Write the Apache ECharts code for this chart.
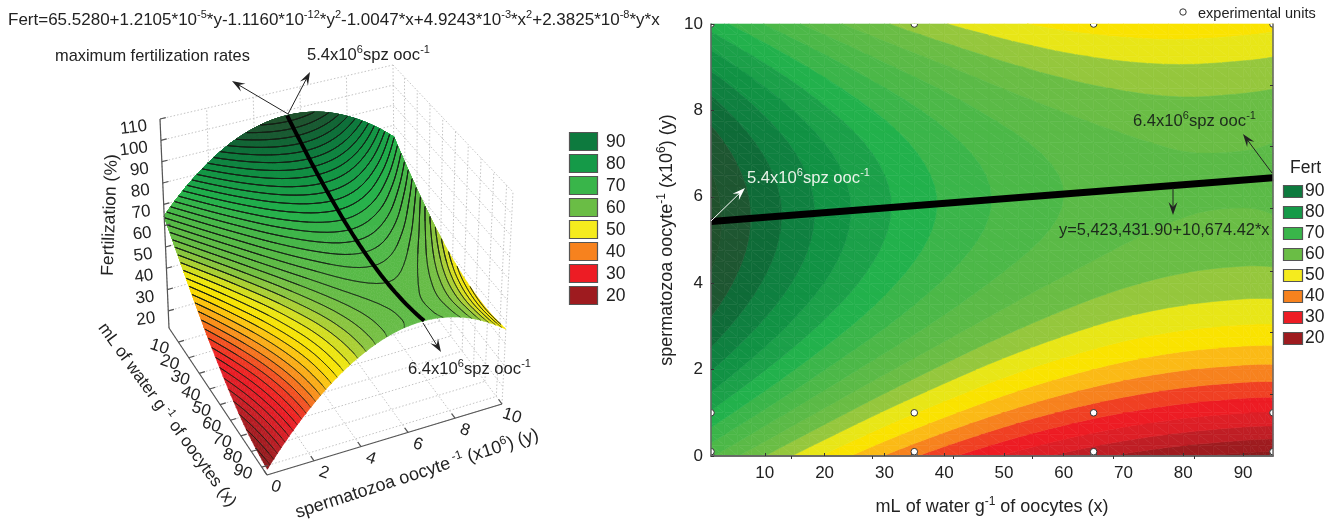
<!DOCTYPE html>
<html><head><meta charset="utf-8">
<style>html,body{margin:0;padding:0;background:#fff}#c{width:1338px;height:519px}</style>
<script src="https://cdn.jsdelivr.net/npm/echarts@6/dist/echarts.min.js"></script>
</head><body><div id="c"></div>
<script>
// ---------- data ----------
const waterX = [1,10,20,30,40,50,60,70,80,90,95];
const spermY = [0,1,2,3,4,5,6,7,8,9,10];
const fertY0  = [64.5,56.0,47.4,39.8,33.2,27.6,23.0,19.3,16.7,15.0,14.5];
const fertY1  = [75.5,67.2,58.9,51.5,45.2,39.8,35.4,32.0,29.6,28.1,27.8];
const fertY2  = [84.3,76.2,68.1,61.0,54.9,49.7,45.6,42.4,40.2,39.0,38.8];
const fertY3  = [90.9,83.0,75.1,68.3,62.4,57.5,53.6,50.6,48.7,47.7,47.6];
const fertY4  = [95.2,87.5,79.9,73.2,67.6,62.9,59.3,56.6,54.9,54.1,54.1];
const fertY5  = [97.3,89.8,82.4,76.0,70.6,66.2,62.8,60.3,58.8,58.3,58.5];
const fertY6  = [97.1,89.9,82.7,76.6,71.4,67.2,64.0,61.8,60.6,60.3,60.6];
const fertY7  = [94.8,87.7,80.8,74.9,69.9,66.0,63.0,61.1,60.1,60.1,60.4];
const fertY8  = [90.1,83.3,76.6,71.0,66.3,62.5,59.8,58.1,57.3,57.6,58.0];
const fertY9  = [83.3,76.7,70.3,64.8,60.4,56.9,54.4,52.9,52.4,52.9,53.4];
const fertY10 = [74.2,67.8,61.6,56.4,52.2,49.0,46.7,45.5,45.2,45.9,46.6];
const fertRows = [fertY0,fertY1,fertY2,fertY3,fertY4,fertY5,fertY6,fertY7,fertY8,fertY9,fertY10];

const expX = [1,1,1,1,35,35,35,35,65,65,65,65,95,95,95,95];
const expY = [0,0.1,1,10,0,0.1,1,10,0,0.1,1,10,0,0.1,1,10];
const regressionX = [1,95];
const regressionY = [5.43,6.44];

const xTickLabels = [10,20,30,40,50,60,70,80,90];
const yTickLabels = [0,2,4,6,8,10];
const topTicks = [14.5,28,41.5,54.7,68.3,81.8];
const rightTicks = [1.43,2.86,4.28,5.73,7.17,8.58];
const zTicks3d = [20,30,40,50,60,70,80,90,100,110];
const xTicks3d = [10,20,30,40,50,60,70,80,90];
const yTicks3d = [0,2,4,6,8,10];

const legendLabels = [90,80,70,60,50,40,30,20];
const legendColors = ['#0D7A3E','#159A48','#39B54A','#6ABD45','#F5EB1E','#F7821E','#ED1C24','#9E1B1F'];
// one colour per 4-unit band, from the band 12-16 upward
const bandFloor = 12, bandStep = 4;
const bandColors = ['#8A1A1C','#9E1B1F','#BF1E25','#DD1F26','#ED1C24','#F04023','#F7821E','#FBBA16','#FAE300','#E8E617','#95C73D','#6ABD45','#5BBA47','#4CB848','#3BB54A','#22B14C','#1BA049','#119244','#0F8040','#0F6B38','#1E5631','#20502C'];

// ---------- helpers ----------
const FONT = '"Liberation Sans", Arial, sans-serif';
const project3d = (function(){
  const A=[169,328],B=[267,475],C=[502,404],D=[395,262];
  const At=[160,119],Bt=[280,246],Ct=[513,192],Dt=[393,65];
  const zMin=12,zMax=110;
  const bil=(p,q,r,s,u,v,k)=>(1-u)*(1-v)*p[k]+u*(1-v)*q[k]+u*v*r[k]+(1-u)*v*s[k];
  return function(x,y,z){
    const u=(x-1)/94,v=y/10,w=(z-zMin)/(zMax-zMin);
    return [0,1].map(k=>{
      const f=bil(A,B,C,D,u,v,k),t=bil(At,Bt,Ct,Dt,u,v,k);
      return f+(t-f)*w;
    });
  };
})();
function hex(c){return [1,3,5].map(i=>parseInt(c.substr(i,2),16));}
function smoothColor(z){
  const t=(z-bandFloor)/bandStep-0.5;
  const i=Math.max(0,Math.min(bandColors.length-2,Math.floor(t)));
  const f=Math.max(0,Math.min(1,t-i));
  const a=hex(bandColors[i]),b=hex(bandColors[i+1]);
  return 'rgb('+a.map((v,k)=>Math.round(v+(b[k]-v)*f)).join(',')+')';
}
function clipZ(poly,level,keepAbove){
  const out=[];
  for(let i=0;i<poly.length;i++){
    const p=poly[i],q=poly[(i+1)%poly.length];
    const pin=keepAbove?p[2]>=level:p[2]<=level,qin=keepAbove?q[2]>=level:q[2]<=level;
    if(pin)out.push(p);
    if(pin!==qin){const t=(level-p[2])/(q[2]-p[2]);out.push([p[0]+(q[0]-p[0])*t,p[1]+(q[1]-p[1])*t,level]);}
  }
  return out;
}
// smooth drawing of the read table: the renderer samples a cubic through the table's values
function slopesOf(xs,v){
  const n=xs.length,m=new Array(n);
  for(let i=1;i<n-1;i++)m[i]=(v[i+1]-v[i-1])/(xs[i+1]-xs[i-1]);
  m[0]=2*(v[1]-v[0])/(xs[1]-xs[0])-m[1];
  m[n-1]=2*(v[n-1]-v[n-2])/(xs[n-1]-xs[n-2])-m[n-2];
  return m;
}
const SUB=4;
function fineAxis(xs){
  const o=[];
  for(let i=0;i<xs.length-1;i++)for(let s=0;s<SUB;s++)o.push(xs[i]+(xs[i+1]-xs[i])*s/SUB);
  o.push(xs[xs.length-1]);
  return o;
}
function resample(xs,v){
  const m=slopesOf(xs,v),o=[];
  for(let i=0;i<xs.length-1;i++){
    const h=xs[i+1]-xs[i];
    for(let s=0;s<SUB;s++){
      const t=s/SUB,t2=t*t,t3=t2*t;
      o.push((2*t3-3*t2+1)*v[i]+(t3-2*t2+t)*h*m[i]+(-2*t3+3*t2)*v[i+1]+(t3-t2)*h*m[i+1]);
    }
  }
  o.push(v[v.length-1]);
  return o;
}
const fineX=fineAxis(waterX),fineY=fineAxis(spermY);
const fineGrid=(function(){
  const byRow=fertRows.map(r=>resample(waterX,r));
  const cols=fineX.map((_,i)=>resample(spermY,byRow.map(r=>r[i])));
  return fineY.map((_,j)=>fineX.map((_,i)=>cols[i][j]));
})();
function forEachTriangle(fn){
  for(let i=0;i<fineX.length-1;i++){
    for(let j=fineY.length-2;j>=0;j--){
      const v=(a,b)=>[fineX[a],fineY[b],fineGrid[b][a]];
      fn([v(i,j),v(i+1,j),v(i,j+1)]);
      fn([v(i+1,j),v(i+1,j+1),v(i,j+1)]);
    }
  }
}
function buildBands(step,colorOf){
  const out=[];
  forEachTriangle(tri=>{
    const zs=tri.map(p=>p[2]);
    const lo=Math.floor(Math.min(...zs)/step)*step,hi=Math.max(...zs);
    for(let l=lo;l<hi;l+=step){
      const poly=clipZ(clipZ(tri,l,true),l+step,false);
      if(poly.length>=3)out.push({pts:poly,color:colorOf(l)});
    }
  });
  return out;
}
function buildContours(step){
  const out=[];
  forEachTriangle(tri=>{
    const zs=tri.map(p=>p[2]);
    for(let l=Math.ceil(Math.min(...zs)/step)*step;l<=Math.max(...zs);l+=step){
      const L=l+1e-6,seg=[];
      for(let i=0;i<3;i++){
        const p=tri[i],q=tri[(i+1)%3];
        if((p[2]-L)*(q[2]-L)<0){const t=(L-p[2])/(q[2]-p[2]);seg.push([p[0]+(q[0]-p[0])*t,p[1]+(q[1]-p[1])*t,l]);}
      }
      if(seg.length===2)out.push(seg);
    }
  });
  return out;
}
function fertAt(x,y){
  let i=0;while(i<fineX.length-2&&x>fineX[i+1])i++;
  let j=0;while(j<fineY.length-2&&y>fineY[j+1])j++;
  const u=(x-fineX[i])/(fineX[i+1]-fineX[i]),v=(y-fineY[j])/(fineY[j+1]-fineY[j]);
  return (1-u)*(1-v)*fineGrid[j][i]+u*(1-v)*fineGrid[j][i+1]+u*v*fineGrid[j+1][i+1]+(1-u)*v*fineGrid[j+1][i];
}
const flatBands = buildBands(bandStep,l=>bandColors[Math.max(0,Math.min(bandColors.length-1,(l-bandFloor)/bandStep))]);
const surfBands = buildBands(2,l=>smoothColor(l+1));
const surfLines = buildContours(2);

// wireframe of the 3-D box
const wire=[];
const X0=1,X1=95,Y0=0,Y1=10,Z0=12,Z1=110;
xTicks3d.concat([X1]).forEach(x=>{wire.push([[x,Y0,Z0],[x,Y1,Z0]]);wire.push([[x,Y1,Z0],[x,Y1,Z1]]);});
yTicks3d.forEach(y=>{wire.push([[X0,y,Z0],[X1,y,Z0]]);wire.push([[X0,y,Z0],[X0,y,Z1]]);});
zTicks3d.forEach(z=>{wire.push([[X0,Y0,z],[X0,Y1,z]]);wire.push([[X0,Y1,z],[X1,Y1,z]]);});

// regression path on the surface
const regressionPath = fineX.map(x=>{
  const y=regressionY[0]+(regressionY[1]-regressionY[0])*(x-regressionX[0])/(regressionX[1]-regressionX[0]);
  return [x,y,fertAt(x,y)];
});

const arrows = [
  [288,114,232,81,'#222'],[288,114,310,72,'#222'],[423,323,441,352,'#222'],
  [711,221,745,188,'#fff'],[1272,173,1243,134,'#222'],[1173,188,1173,215,'#222']
];

function richStyle(size,fill){
  const small=Math.round(size*0.65);
  return {
    b:{fontSize:size,fontFamily:FONT,fill:fill,color:fill,lineHeight:size+4,verticalAlign:'bottom',height:size+4},
    s:{fontSize:small,fontFamily:FONT,fill:fill,color:fill,lineHeight:small,verticalAlign:'top'}
  };
}
function label(text,x,y,size,fill,align,rotDeg){
  return {type:'text',x:x,y:y,rotation:(rotDeg||0)*Math.PI/180,silent:true,z:50,
    style:{text:text,rich:richStyle(size,fill),align:align||'left',verticalAlign:'middle',fill:fill}};
}
const spz54='{b|5.4x10}{s|6}{b|spz ooc}{s|-1}', spz64='{b|6.4x10}{s|6}{b|spz ooc}{s|-1}';
const graphics=[
  label('{b|Fert=65.5280+1.2105*10}{s|-5}{b|*y-1.1160*10}{s|-12}{b|*y}{s|2}{b|-1.0047*x+4.9243*10}{s|-3}{b|*x}{s|2}{b|+2.3825*10}{s|-8}{b|*y*x}',8,20,17,'#222'),
  label('{b|maximum fertilization rates}',55,56,16.4,'#222'),
  label(spz54,307,55,16.6,'#222'),
  label(spz64,408,369,16.6,'#222'),
  label(spz54,747,178,16.6,'#e8f2e8'),
  label(spz64,1133,121,16.6,'#1c2a1c'),
  label('{b|y=5,423,431.90+10,674.42*x}',1059,230,16.4,'#1c2a1c'),
  label('{b|experimental units}',1198,14,14.5,'#222'),
  label('{b|Fert}',1290,168,17.5,'#222'),
  label('{b|Fertilization (%)}',110,215,17.5,'#222','center',88),
  label('{b|mL of water g}{s| -1}{b| of oocytes (x)}',167,415,17,'#222','center',-54),
  label('{b|spermatozoa oocyte}{s| -1}{b| (x10}{s|6}{b|) (y)}',417,474,18,'#222','center',18),
  {type:'circle',shape:{cx:1183,cy:12,r:3.2},style:{fill:'#fff',stroke:'#333',lineWidth:1},silent:true}
];
legendLabels.forEach((v,i)=>{
  graphics.push({type:'rect',shape:{x:569.5,y:132.5+i*22,width:28,height:18},style:{fill:legendColors[i],stroke:'#555',lineWidth:1.2},silent:true});
  graphics.push(label('{b|'+v+'}',606,142+i*22,17.5,'#222'));
  graphics.push({type:'rect',shape:{x:1283.5,y:185.5+i*21,width:19,height:12},style:{fill:legendColors[i],stroke:'#555',lineWidth:1.2},silent:true});
  graphics.push(label('{b|'+v+'}',1305,191+i*21,17.5,'#222'));
});

const frameStyle={lineStyle:{color:'#666',width:1.5}};
const tickStyle={inside:true,length:3,lineStyle:{color:'#333',width:1}};
const pixelAxis={xAxisIndex:2,yAxisIndex:2,coordinateSystem:'cartesian2d',silent:true};

const option={
  animation:false,
  backgroundColor:'#fff',
  textStyle:{fontFamily:FONT},
  graphic:{elements:graphics},
  grid:[
    {left:711,top:24,width:562,height:432,containLabel:false,outerBoundsMode:'none'},
    {left:0,top:0,width:1338,height:519,outerBoundsMode:'none'}
  ],
  xAxis:[
    {gridIndex:0,type:'value',min:1,max:95,position:'bottom',z:5,splitLine:{show:false},axisLine:frameStyle,
      axisTick:Object.assign({customValues:xTickLabels},tickStyle),
      axisLabel:{customValues:xTickLabels,fontSize:17,color:'#222',margin:9,fontFamily:FONT},
      name:'{b|mL of water g}{s|-1}{b| of oocytes (x)}',nameLocation:'middle',nameGap:40,
      nameTextStyle:{rich:richStyle(18,'#222')}},
    {gridIndex:0,type:'value',min:1,max:95,position:'top',z:5,splitLine:{show:false},axisLine:frameStyle,
      axisTick:Object.assign({customValues:topTicks},tickStyle),axisLabel:{show:false}},
    {gridIndex:1,type:'value',min:0,max:1338,show:false}
  ],
  yAxis:[
    {gridIndex:0,type:'value',min:0,max:10,interval:2,position:'left',z:5,splitLine:{show:false},axisLine:frameStyle,
      axisTick:tickStyle,
      axisLabel:{fontSize:17,color:'#222',margin:8,fontFamily:FONT,formatter:v=>yTickLabels.includes(v)?String(v):''},
      name:'{b|spermatozoa oocyte}{s|-1}{b| (x10}{s|6}{b|) (y)}',nameLocation:'middle',nameGap:33,nameRotate:90,
      nameTextStyle:{rich:richStyle(18,'#222')}},
    {gridIndex:0,type:'value',min:0,max:10,position:'right',z:5,splitLine:{show:false},axisLine:frameStyle,
      axisTick:Object.assign({customValues:rightTicks},tickStyle),axisLabel:{show:false}},
    {gridIndex:1,type:'value',min:0,max:519,inverse:true,show:false}
  ],
  series:[
    // ---- right panel: filled contour bands
    {type:'custom',xAxisIndex:0,yAxisIndex:0,silent:true,z:2,data:flatBands.map((_,i)=>i),
      renderItem(p,api){
        const b=flatBands[p.dataIndex];
        return {type:'polygon',shape:{points:b.pts.map(q=>api.coord([q[0],q[1]]))},
          style:{fill:b.color,stroke:b.color,lineWidth:0.6}};
      }},
    {type:'line',xAxisIndex:0,yAxisIndex:0,silent:true,z:3,symbol:'none',
      data:regressionX.map((x,i)=>[x,regressionY[i]]),lineStyle:{color:'#000',width:7,cap:'butt'}},
    {type:'custom',xAxisIndex:0,yAxisIndex:0,silent:true,z:4,clip:true,
      data:expX.map((x,i)=>[x,expY[i]]),encode:{x:0,y:1},
      renderItem(p,api){
        const c=api.coord([api.value(0),api.value(1)]);
        return {type:'circle',shape:{cx:c[0],cy:c[1],r:3.3},style:{fill:'#fff',stroke:'#333',lineWidth:1}};
      }},
    // ---- left panel: wireframe
    Object.assign({type:'custom',z:1,data:wire.map((_,i)=>i),
      renderItem(p,api){
        const w=wire[p.dataIndex];
        return {type:'polyline',shape:{points:w.map(q=>api.coord(project3d(q[0],q[1],q[2])))},
          style:{stroke:'#c4c4c4',lineWidth:1,lineDash:[1.5,2],fill:null}};
      }},pixelAxis),
    // ---- left panel: surface
    Object.assign({type:'custom',z:2,data:surfBands.map((_,i)=>i),
      renderItem(p,api){
        const b=surfBands[p.dataIndex];
        return {type:'polygon',shape:{points:b.pts.map(q=>api.coord(project3d(q[0],q[1],q[2])))},
          style:{fill:b.color,stroke:b.color,lineWidth:0.6}};
      }},pixelAxis),
    Object.assign({type:'custom',z:3,data:surfLines.map((_,i)=>i),
      renderItem(p,api){
        const s=surfLines[p.dataIndex];
        const a=api.coord(project3d(s[0][0],s[0][1],s[0][2])),b=api.coord(project3d(s[1][0],s[1][1],s[1][2]));
        return {type:'line',shape:{x1:a[0],y1:a[1],x2:b[0],y2:b[1]},style:{stroke:'rgba(20,30,20,0.8)',lineWidth:0.8}};
      }},pixelAxis),
    Object.assign({type:'line',z:4,symbol:'none',data:regressionPath.map(q=>project3d(q[0],q[1],q[2])),
      lineStyle:{color:'#000',width:4}},pixelAxis),
    // ---- left panel: axes, ticks and labels of the box
    Object.assign({type:'custom',z:5,data:[0],
      renderItem(p,api){
        const pt=(x,y,z)=>api.coord(project3d(x,y,z));
        const ln=(a,b,w)=>({type:'polyline',shape:{points:[a,b]},style:{stroke:'#555',lineWidth:w||1.2,fill:null}});
        const txt=(s,a,dx,dy,rot,al)=>({type:'text',x:a[0]+dx,y:a[1]+dy,rotation:rot*Math.PI/180,
          style:{text:String(s),font:'17px '+FONT,fill:'#222',align:al||'center',verticalAlign:'middle'}});
        const kids=[ln(pt(X0,Y0,Z0),pt(X0,Y0,Z1)),ln(pt(X0,Y0,Z0),pt(X1,Y0,Z0)),ln(pt(X1,Y0,Z0),pt(X1,Y1,Z0))];
        zTicks3d.forEach(z=>{const a=pt(X0,Y0,z);kids.push(ln(a,pt(X0,0.25,z)));kids.push(txt(z,a,-13,7,7,'right'));});
        xTicks3d.forEach(x=>{const a=pt(x,Y0,Z0);kids.push(ln(a,pt(x,0.25,Z0)));kids.push(txt(x,a,-19,5,-18));});
        yTicks3d.forEach(y=>{const a=pt(X1,y,Z0);kids.push(ln(a,pt(92,y,Z0)));kids.push(txt(y,a,y===0?9:10,12,-18));});
        return {type:'group',children:kids};
      }},pixelAxis),
    // ---- annotation arrows
    Object.assign({type:'custom',z:6,data:arrows.map((_,i)=>i),
      renderItem(p,api){
        const r=arrows[p.dataIndex];
        const a=api.coord([r[0],r[1]]),b=api.coord([r[2],r[3]]);
        const d=Math.hypot(b[0]-a[0],b[1]-a[1]),ux=(b[0]-a[0])/d,uy=(b[1]-a[1])/d;
        const back=(l,w)=>[b[0]-ux*l-uy*w,b[1]-uy*l+ux*w];
        return {type:'group',children:[
          {type:'polyline',shape:{points:[a,back(6,0)]},style:{stroke:r[4],lineWidth:1,fill:null}},
          {type:'polygon',shape:{points:[b,back(13,4.5),back(8,0),back(13,-4.5)]},style:{fill:r[4]}}
        ]};
      }},pixelAxis)
  ]
};
const chart=echarts.init(document.getElementById('c'),null,{renderer:'canvas'});
chart.setOption(option);
</script></body></html>
